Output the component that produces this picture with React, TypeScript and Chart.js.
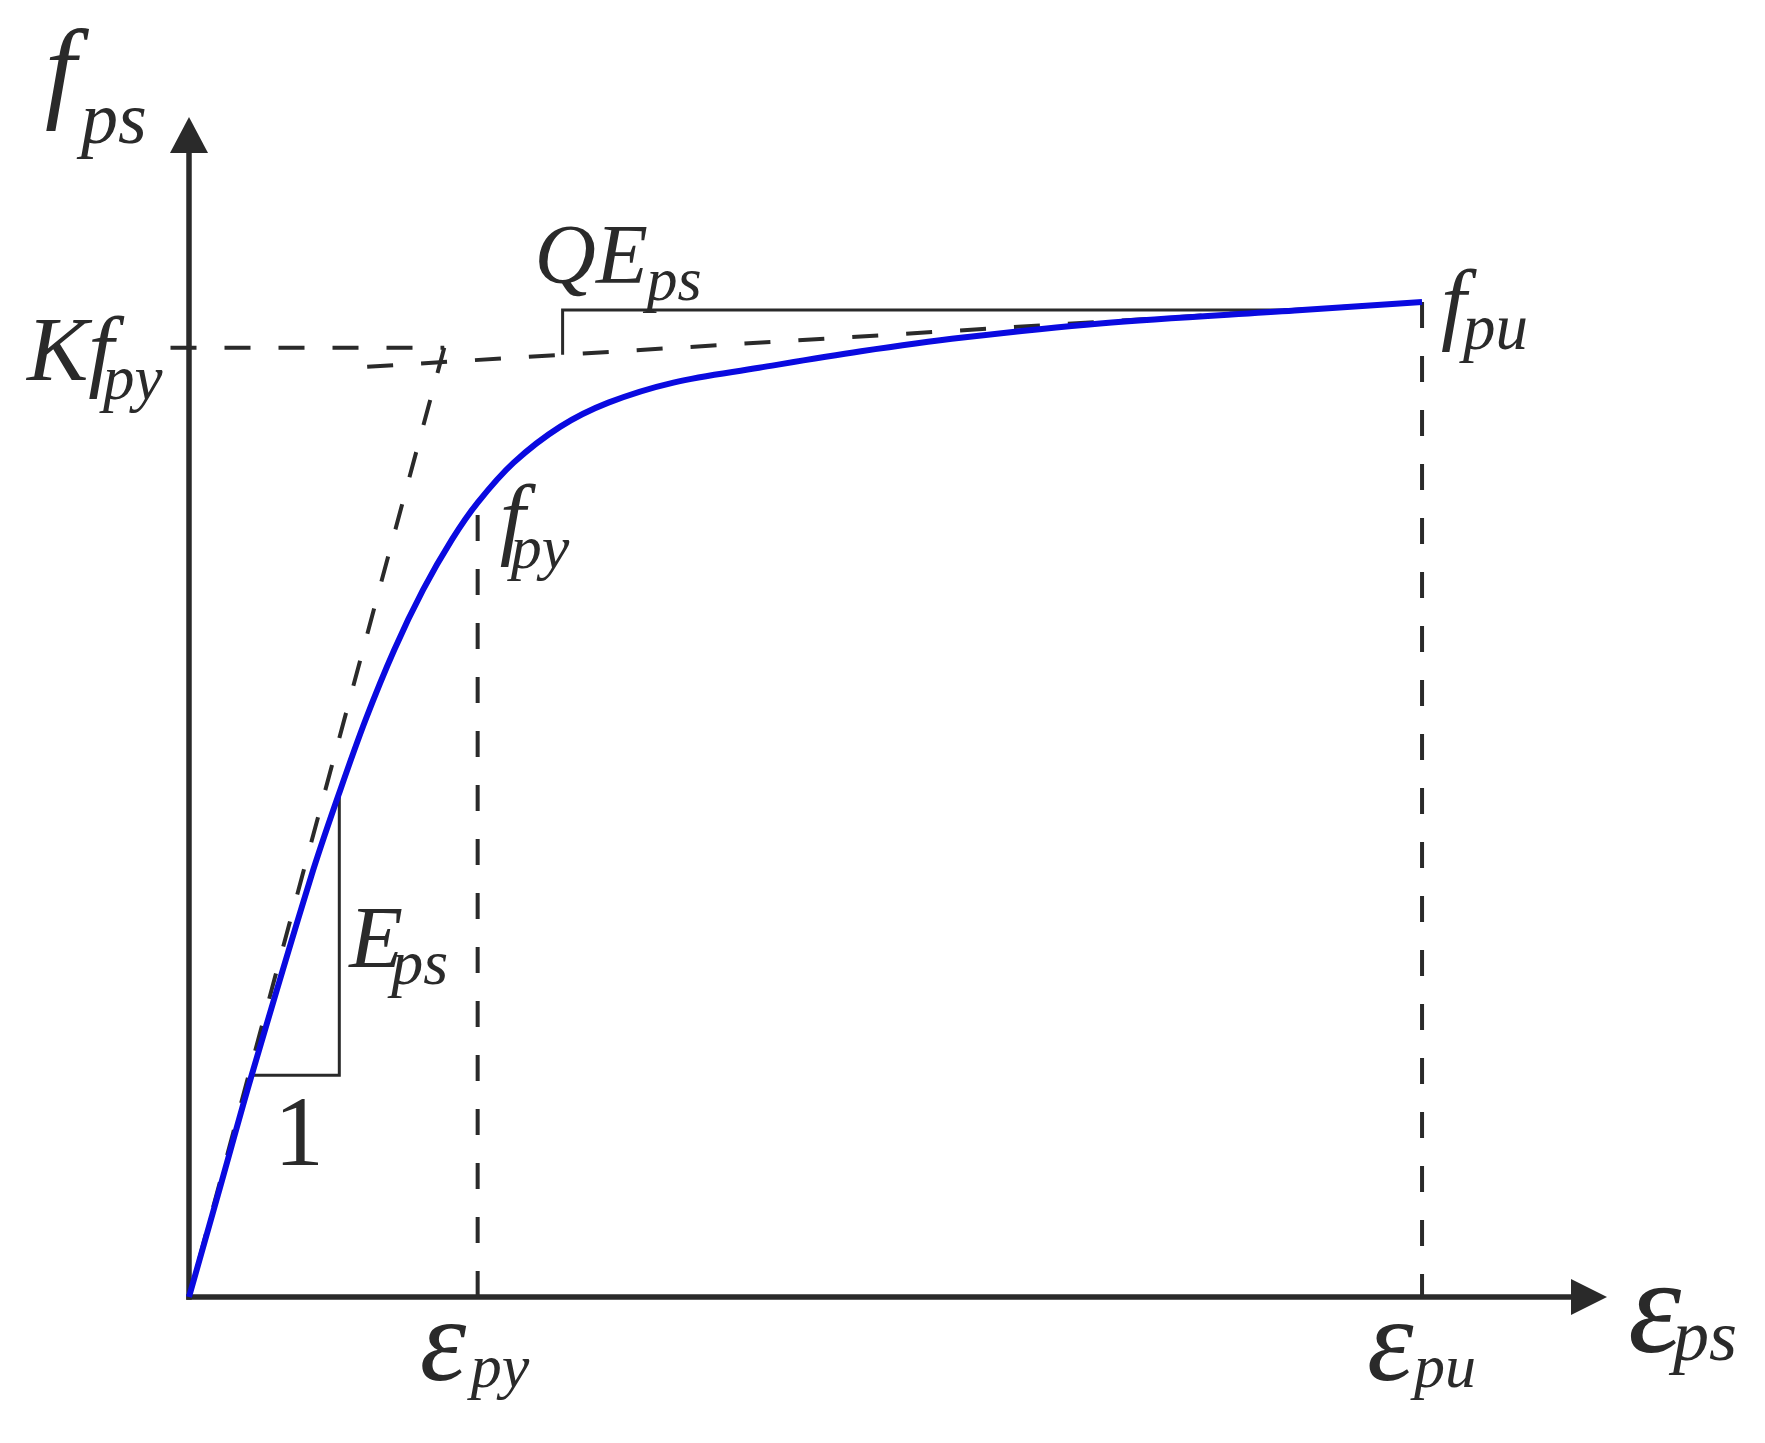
import React, { useEffect, useRef } from 'react';
import { Chart, registerables } from 'chart.js';

Chart.register(...registerables);

// ---- Data (strain as % of εpu, stress as % of fpu) ----
const curveStrain = [0, 2.55, 5.09, 9.90, 12.19, 14.32, 16.65, 18.99, 21.32, 23.41, 26.33, 30.12, 34.01, 39.29, 46.23, 54.5, 62.77, 73.88, 89.68, 100];
const curveStress = [0, 11.16, 22.32, 42.23, 50.68, 58.02, 65.06, 71.09, 76.12, 79.84, 83.86, 87.48, 89.89, 91.91, 93.39, 95.05, 96.43, 97.85, 99.15, 100];

const EPS_PY = 23.41;   // strain at fpy
const EPS_PU = 100;     // ultimate strain
const FPY = 79.84;      // yield stress
const FPU = 100;        // ultimate stress
const KFPY = 95.4;      // K * fpy
const EPS_K = 20.7;     // strain where initial tangent reaches K fpy
const QE_START = [14.45, 93.5]; // start of the Q*Eps dashed line

const triangleStrain = [5.0, 12.19, 12.19];
const triangleStress = [22.3, 22.3, 50.68];
const bracketStrain = [30.3, 30.3, 89.7];
const bracketStress = [94.7, 99.2, 99.2];

const X_MAX = 115;
const Y_MAX = 118.6;

const BLUE = '#0a0ae0';
const INK = '#2a2a2a';
const SERIF = '"Liberation Serif", "Times New Roman", Times, serif';

const pts = (xs: number[], ys: number[]) => xs.map((v, i) => ({ x: v, y: ys[i] }));

function sub(ctx: CanvasRenderingContext2D, main: string, mx: number, my: number, ms: number,
  s: string, sx: number, sy: number, ss: number) {
  ctx.font = `italic ${ms}px ${SERIF}`;
  ctx.fillText(main, mx, my);
  ctx.font = `italic ${ss}px ${SERIF}`;
  ctx.fillText(s, sx, sy);
}

const diagramPlugin = {
  id: 'diagram',
  beforeDatasetsDraw(chart: any) {
    const { ctx, scales: { x, y } } = chart;
    const x0 = x.getPixelForValue(0);
    const y0 = y.getPixelForValue(0);
    const xEnd = x.getPixelForValue(X_MAX);
    const yEnd = y.getPixelForValue(Y_MAX);
    ctx.save();
    ctx.strokeStyle = INK;
    ctx.fillStyle = INK;
    ctx.lineWidth = 5.5;
    ctx.lineCap = 'butt';
    ctx.beginPath();
    ctx.moveTo(x0, y0 + 2.75);
    ctx.lineTo(x0, yEnd + 30);
    ctx.stroke();
    ctx.beginPath();
    ctx.moveTo(x0 - 2.75, y0);
    ctx.lineTo(xEnd - 30, y0);
    ctx.stroke();
    ctx.beginPath();
    ctx.moveTo(x0, yEnd);
    ctx.lineTo(x0 - 19, yEnd + 36);
    ctx.lineTo(x0 + 19, yEnd + 36);
    ctx.closePath();
    ctx.fill();
    ctx.beginPath();
    ctx.moveTo(xEnd, y0);
    ctx.lineTo(xEnd - 36, y0 - 18);
    ctx.lineTo(xEnd - 36, y0 + 18);
    ctx.closePath();
    ctx.fill();
    ctx.restore();
  },
  afterDatasetsDraw(chart: any) {
    const { ctx, scales: { x, y } } = chart;
    const x0 = x.getPixelForValue(0);
    const y0 = y.getPixelForValue(0);
    const xEnd = x.getPixelForValue(X_MAX);
    const yEnd = y.getPixelForValue(Y_MAX);
    const xpy = x.getPixelForValue(EPS_PY);
    const xpu = x.getPixelForValue(EPS_PU);
    const yK = y.getPixelForValue(KFPY);
    const yPy = y.getPixelForValue(FPY);
    const yPu = y.getPixelForValue(FPU);
    const triR = x.getPixelForValue(triangleStrain[1]);
    const triL = x.getPixelForValue(triangleStrain[0]);
    const triB = y.getPixelForValue(triangleStress[0]);
    const brX = x.getPixelForValue(bracketStrain[0]);
    const brT = y.getPixelForValue(bracketStress[1]);

    ctx.save();
    ctx.fillStyle = INK;
    ctx.textBaseline = 'alphabetic';
    ctx.textAlign = 'left';

    // f_ps (vertical axis title)
    sub(ctx, 'f', x0 - 144, yEnd - 10, 112, 'ps', x0 - 108, yEnd + 26, 74);
    // K f_py
    sub(ctx, 'Kf', x0 - 162, yK + 32, 92, 'py', x0 - 86, yK + 51, 63);
    // Q E_ps
    sub(ctx, 'QE', brX - 28, brT - 27, 85, 'ps', brX + 84, brT - 10, 62);
    // E_ps (slope triangle)
    sub(ctx, 'E', triR + 10, triB - 108, 88, 'ps', triR + 52, triB - 91, 64);
    // 1
    ctx.font = `${100}px ${SERIF}`;
    ctx.textAlign = 'center';
    ctx.fillText('1', (triL + triR) / 2 + 4, triB + 90);
    ctx.textAlign = 'left';
    // f_py
    sub(ctx, 'f', xpy + 22, yPy + 45, 92, 'py', xpy + 33, yPy + 65, 62);
    // f_pu
    sub(ctx, 'f', xpu + 19, yPu + 31, 91, 'pu', xpu + 41, yPu + 47, 65);
    // ε_py
    sub(ctx, 'ε', xpy - 58, y0 + 83, 118, 'py', xpy - 7, y0 + 90, 62);
    // ε_pu
    sub(ctx, 'ε', xpu - 55, y0 + 83, 118, 'pu', xpu - 8, y0 + 90, 62);
    // ε_ps (horizontal axis title)
    sub(ctx, 'ε', xEnd + 21, y0 + 55, 135, 'ps', xEnd + 66, y0 + 63, 72);
    ctx.restore();
  },
};

export default function App() {
  const ref = useRef<HTMLCanvasElement | null>(null);

  useEffect(() => {
    if (!ref.current) return;
    const dashed = (data: { x: number; y: number }[]) => ({
      data,
      borderColor: INK,
      borderWidth: 4,
      borderDash: [26, 28],
      pointRadius: 0,
      showLine: true,
      clip: false as any,
      order: 2,
    });
    const solid = (data: { x: number; y: number }[]) => ({
      data,
      borderColor: INK,
      borderWidth: 3,
      pointRadius: 0,
      showLine: true,
      clip: false as any,
      order: 1,
    });

    const chart = new Chart(ref.current, {
      type: 'scatter',
      data: {
        datasets: [
          {
            data: pts(curveStrain, curveStress),
            borderColor: BLUE,
            borderWidth: 6,
            pointRadius: 0,
            showLine: true,
            tension: 0.35,
            clip: false as any,
            order: 0,
          } as any,
          dashed([{ x: EPS_K, y: KFPY }, { x: 0, y: 0 }]),
          dashed([{ x: -1.5, y: KFPY }, { x: EPS_K, y: KFPY }]),
          dashed([{ x: QE_START[0], y: QE_START[1] }, { x: EPS_PU, y: FPU }]),
          dashed([{ x: EPS_PY, y: 0 }, { x: EPS_PY, y: FPY }]),
          dashed([{ x: EPS_PU, y: FPU }, { x: EPS_PU, y: 0 }]),
          solid(pts(triangleStrain, triangleStress)),
          solid(pts(bracketStrain, bracketStress)),
        ],
      },
      options: {
        responsive: false,
        devicePixelRatio: 1,
        animation: false,
        layout: { padding: { left: 189, right: 158, top: 117, bottom: 146 } },
        plugins: { legend: { display: false }, tooltip: { enabled: false }, title: { display: false } },
        scales: {
          x: { type: 'linear', min: 0, max: X_MAX, display: false },
          y: { type: 'linear', min: 0, max: Y_MAX, display: false },
        },
        events: [],
      },
      plugins: [diagramPlugin],
    });
    let alive = true;
    const fonts: any = (document as any).fonts;
    if (fonts && fonts.load) {
      Promise.all([
        fonts.load('italic 100px "Liberation Serif"', 'fpsεKQE'),
        fonts.load('100px "Liberation Serif"', '1'),
      ]).then(() => { if (alive) chart.draw(); }).catch(() => {});
    }
    return () => { alive = false; chart.destroy(); };
  }, []);

  return (
    <div style={{ position: 'fixed', left: 0, top: 0, width: 1765, height: 1443, background: '#ffffff' }}>
      <canvas ref={ref} width={1765} height={1443} style={{ display: 'block' }} />
    </div>
  );
}
